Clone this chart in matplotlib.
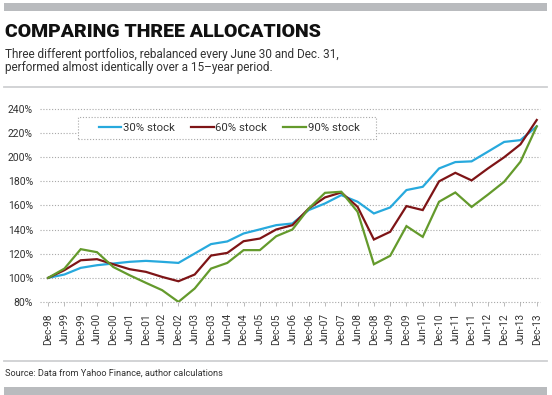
import matplotlib
matplotlib.use("Agg")
import matplotlib.pyplot as plt
from matplotlib.patches import Rectangle
from matplotlib.lines import Line2D

plt.rcParams['font.family'] = ['Roboto', 'DejaVu Sans']

dates = ["Dec-98", "Jun-99", "Dec-99", "Jun-00", "Dec-00", "Jun-01", "Dec-01", "Jun-02",
         "Dec-02", "Jun-03", "Dec-03", "Jun-04", "Dec-04", "Jun-05", "Dec-05", "Jun-06",
         "Dec-06", "Jun-07", "Dec-07", "Jun-08", "Dec-08", "Jun-09", "Dec-09", "Jun-10",
         "Dec-10", "Jun-11", "Dec-11", "Jun-12", "Dec-12", "Jun-13", "Dec-13"]

stock30 = [100, 102.8, 108.3, 110.5, 111.9, 113.3, 114.1, 113.3, 112.4, 120.2, 128.0,
           130.2, 136.8, 140.2, 143.7, 145.1, 156.2, 161.7, 168.6, 163.1, 153.4, 158.4,
           172.8, 175.5, 190.7, 196.0, 196.6, 204.6, 212.7, 214.2, 225.6]
stock60 = [100, 106.4, 114.6, 115.5, 111.3, 107.2, 105.0, 100.8, 97.2, 102.8, 118.5,
           120.7, 130.4, 132.6, 140.1, 143.7, 157.5, 166.7, 170.8, 158.9, 131.8, 138.2,
           159.5, 156.2, 180.0, 187.1, 180.8, 190.7, 200.0, 210.7, 230.9]
stock90 = [100, 107.7, 123.8, 121.3, 109.0, 102.2, 95.9, 89.8, 80.1, 91.2, 107.7,
           112.4, 123.0, 123.0, 134.5, 140.1, 157.5, 170.5, 171.4, 154.8, 111.3, 118.3,
           142.9, 134.0, 163.1, 170.8, 158.8, 169.0, 179.7, 196.3, 225.6]

series_names = ["30% stock", "60% stock", "90% stock"]
y_ticks = [80, 100, 120, 140, 160, 180, 200, 220, 240]

colors = ["#27a9dd", "#7e1416", "#649a2c"]

W, H = 552, 395
fig = plt.figure(figsize=(W / 100, H / 100), dpi=100)
fig.patch.set_facecolor("white")

def fx(x):
    return x / W

def fy(y):
    return 1 - y / H

# decorative bars and rules
fig.patches.append(Rectangle((fx(4), fy(11)), fx(547) - fx(4), (11 - 3) / H,
                             transform=fig.transFigure, facecolor="#b9bbbe", edgecolor="none"))
fig.patches.append(Rectangle((fx(4), fy(395)), fx(547) - fx(4), (395 - 387) / H,
                             transform=fig.transFigure, facecolor="#b9bbbe", edgecolor="none"))
for yy in (87, 361):
    fig.add_artist(Line2D([fx(4), fx(547)], [fy(yy), fy(yy)], transform=fig.transFigure,
                          color="#cfd0d2", lw=1.3))

fig.text(fx(5), fy(37), "COMPARING THREE ALLOCATIONS", fontsize=14, fontweight="black",
         color="#111111", va="baseline", ha="left")
fig.text(fx(5), fy(58), "Three different portfolios, rebalanced every June 30 and Dec. 31,",
         fontsize=8.5, color="#333333", va="baseline", ha="left")
fig.text(fx(5), fy(71), "performed almost identically over a 15\u2013year period.",
         fontsize=8.5, color="#333333", va="baseline", ha="left")
fig.text(fx(5), fy(376), "Source: Data from Yahoo Finance, author calculations",
         fontsize=6.6, color="#333333", va="baseline", ha="left")

ax = fig.add_axes([fx(40), fy(302), fx(540) - fx(40), (302 - 109) / H])
x = list(range(len(dates)))
for vals, c, name in zip([stock30, stock60, stock90], colors, series_names):
    ax.plot(x, vals, color=c, lw=1.6, label=name, zorder=3, solid_joinstyle="miter")

ax.set_ylim(80, 240)
ax.set_xlim(-0.5, 30.2)
for v in y_ticks:
    ax.axhline(v, color="#a8a8a8", lw=0.8, ls=(0, (1, 1.6)), zorder=1, clip_on=False)
ax.set_yticks(y_ticks)
ax.set_yticklabels([f"{v}%" for v in y_ticks])
ax.set_xticks(x)
ax.set_xticklabels(dates, rotation=90)
for s in ax.spines.values():
    s.set_visible(False)
ax.tick_params(axis="y", length=0, pad=5, labelsize=7.5, labelcolor="#333333")
ax.tick_params(axis="x", length=3, width=0.6, color="#b0b0b0", pad=5, labelsize=7.3,
               labelcolor="#333333")

# legend with dotted frame
fig.patches.append(Rectangle((fx(78), fy(139)), fx(376) - fx(78), (139 - 117) / H,
                             transform=fig.transFigure, facecolor="white", edgecolor="#a8a8a8",
                             lw=0.8, ls=(0, (1, 1.6))))
handles, labels = ax.get_legend_handles_labels()
leg = fig.legend(handles, labels, loc="center", bbox_to_anchor=(fx(229), fy(128)), ncol=3,
                 frameon=False, fontsize=8.2, handlelength=2.0, handletextpad=0.15,
                 columnspacing=1.4, borderpad=0, labelcolor="#333333")
for t in leg.get_texts():
    t.set_color("#333333")

fig.savefig("out.png", dpi=100, facecolor="white")
